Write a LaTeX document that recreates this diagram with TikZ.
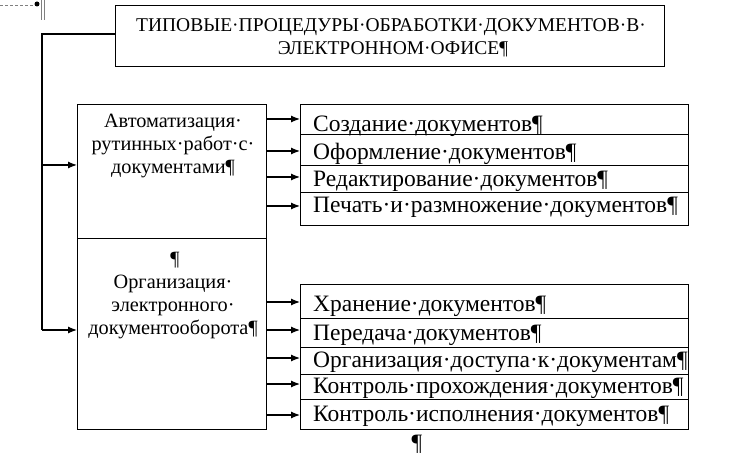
\documentclass[tikz,border=0pt]{standalone}
\usepackage{fontspec}
\setmainfont{Liberation Serif}
\usetikzlibrary{arrows.meta}
\begin{document}
\begin{tikzpicture}[x=1pt,y=-1pt,
  frame/.style={draw, line width=1.2pt, rectangle, inner sep=0pt, anchor=north west},
  rowtext/.style={anchor=base west, inner sep=0pt, font=\fontsize{23.5}{27}\selectfont},
  boxtext/.style={anchor=base, inner sep=0pt, font=\fontsize{20.3}{23}\selectfont},
  titletext/.style={anchor=base, inner sep=0pt, font=\fontsize{19.5}{23}\selectfont},
  arr/.style={line width=1.2pt, -{Latex[length=9pt,width=7pt]}},
  link/.style={line width=1.2pt},
  ]
\path[use as bounding box] (0,0) rectangle (744,454);
% word anchor artifact
\draw[densely dashed, gray, line width=0.6pt] (0,5) -- (35,5);
\fill (37,4) circle (2.5pt);
\draw[gray, line width=0.7pt] (41.5,0) -- (41.5,20) (44,0) -- (44,20);

% title
\node[frame, minimum width=549pt, minimum height=61pt] (title) at (115,5) {};
\node[titletext] (t1) at (391,32) {ТИПОВЫЕ·ПРОЦЕДУРЫ·ОБРАБОТКИ·ДОКУМЕНТОВ·В·};
\node[titletext] (t2) at (393,55) {ЭЛЕКТРОННОМ·ОФИСЕ¶};

% left boxes
\node[frame, minimum width=189pt, minimum height=134pt] (auto) at (77,104) {};
\node[frame, minimum width=189pt, minimum height=191pt] (org) at (77,238) {};
\node[boxtext] (a1) at (173,128) {Автоматизация·};
\node[boxtext] (a2) at (173,151) {рутинных·работ·с·};
\node[boxtext] (a3) at (173,174) {документами¶};
\node[boxtext] (o0) at (175,266) {¶};
\node[boxtext] (o1) at (173,288) {Организация·};
\node[boxtext] (o2) at (173,311) {электронного·};
\node[boxtext] (o3) at (173,334) {документооборота¶};

% right rows group 1
\node[frame, minimum width=388pt, minimum height=30pt] (c1) at (300,104) {};
\node[frame, minimum width=388pt, minimum height=31pt] (c2) at (300,134) {};
\node[frame, minimum width=388pt, minimum height=27pt] (c3) at (300,165) {};
\node[frame, minimum width=388pt, minimum height=33pt] (c4) at (300,192) {};
\node[rowtext] (ct1) at (313,132) {Создание·документов¶};
\node[rowtext] (ct2) at (313,160) {Оформление·документов¶};
\node[rowtext] (ct3) at (313,187) {Редактирование·документов¶};
\node[rowtext] (ct4) at (313,213) {Печать·и·размножение·документов¶};

% right rows group 2
\node[frame, minimum width=388pt, minimum height=34pt] (d1) at (300,284) {};
\node[frame, minimum width=388pt, minimum height=29pt] (d2) at (300,318) {};
\node[frame, minimum width=388pt, minimum height=27pt] (d3) at (300,347) {};
\node[frame, minimum width=388pt, minimum height=25pt] (d4) at (300,374) {};
\node[frame, minimum width=388pt, minimum height=30pt] (d5) at (300,399) {};
\node[rowtext] (dt1) at (313,312) {Хранение·документов¶};
\node[rowtext] (dt2) at (313,340) {Передача·документов¶};
\node[rowtext] (dt3) at (313,367) {Организация·доступа·к·документам¶};
\node[rowtext] (dt4) at (313,393) {Контроль·прохождения·документов¶};
\node[rowtext] (dt5) at (313,421) {Контроль·исполнения·документов¶};

\node[rowtext, anchor=base] (pil) at (417,450) {¶};

% connectors
\coordinate (lx) at (42,34);
\draw[link] (title.west |- lx) -- (lx) -- (lx |- 0,330);
\draw[arr] (lx |- 0,165) -- (auto.west |- 0,165);
\draw[arr] (lx |- 0,330) -- (org.west |- 0,330);

\draw[arr] (auto.east |- 0,119) -- (c1.west |- 0,119);
\draw[arr] (auto.east |- 0,151) -- (c2.west |- 0,151);
\draw[arr] (auto.east |- 0,177) -- (c3.west |- 0,177);
\draw[arr] (auto.east |- 0,206) -- (c4.west |- 0,206);

\draw[arr] (org.east |- 0,302) -- (d1.west |- 0,302);
\draw[arr] (org.east |- 0,330) -- (d2.west |- 0,330);
\draw[arr] (org.east |- 0,358) -- (d3.west |- 0,358);
\draw[arr] (org.east |- 0,384) -- (d4.west |- 0,384);
\draw[arr] (org.east |- 0,415) -- (d5.west |- 0,415);
\end{tikzpicture}
\end{document}
